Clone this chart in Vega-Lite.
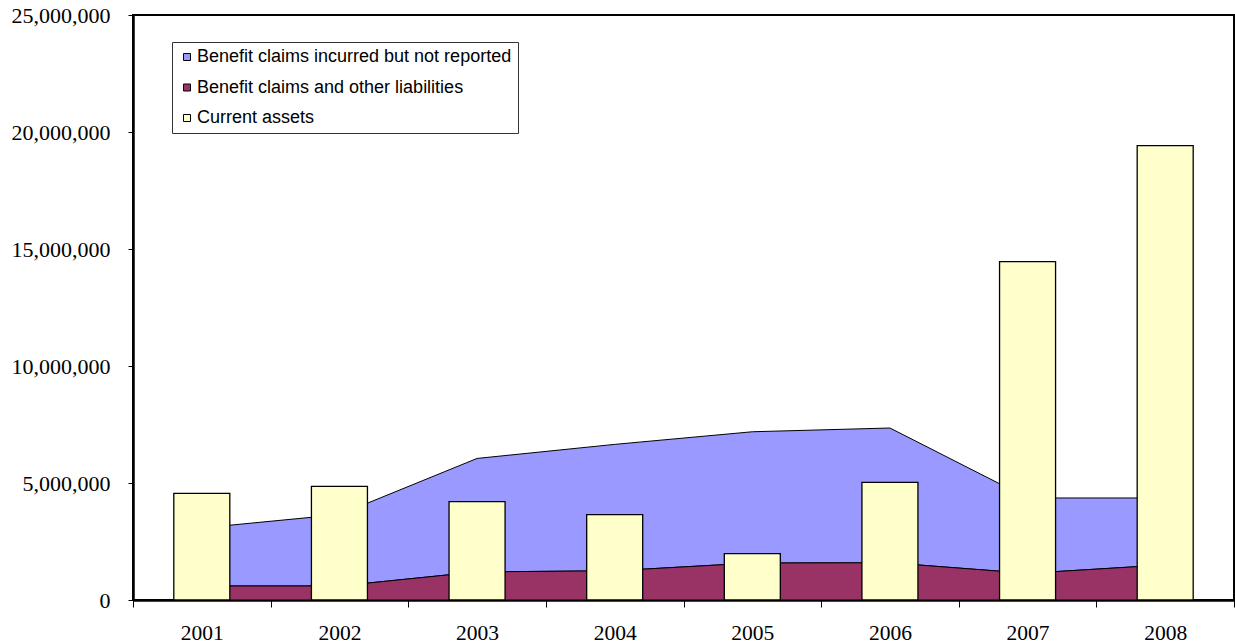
{
  "$schema": "https://vega.github.io/schema/vega-lite/v6.json",
  "width": 1101,
  "height": 585,
  "autosize": {"type": "none"},
  "padding": {"left": 133, "top": 15, "right": 1, "bottom": 44},
  "background": "white",
  "data": {
    "values": [
      {"year": "2001", "series": "Benefit claims incurred but not reported", "value": 2480000},
      {"year": "2002", "series": "Benefit claims incurred but not reported", "value": 3050000},
      {"year": "2003", "series": "Benefit claims incurred but not reported", "value": 4850000},
      {"year": "2004", "series": "Benefit claims incurred but not reported", "value": 5400000},
      {"year": "2005", "series": "Benefit claims incurred but not reported", "value": 5610000},
      {"year": "2006", "series": "Benefit claims incurred but not reported", "value": 5760000},
      {"year": "2007", "series": "Benefit claims incurred but not reported", "value": 3220000},
      {"year": "2008", "series": "Benefit claims incurred but not reported", "value": 2860000},
      {"year": "2001", "series": "Benefit claims and other liabilities", "value": 600000},
      {"year": "2002", "series": "Benefit claims and other liabilities", "value": 600000},
      {"year": "2003", "series": "Benefit claims and other liabilities", "value": 1200000},
      {"year": "2004", "series": "Benefit claims and other liabilities", "value": 1250000},
      {"year": "2005", "series": "Benefit claims and other liabilities", "value": 1580000},
      {"year": "2006", "series": "Benefit claims and other liabilities", "value": 1590000},
      {"year": "2007", "series": "Benefit claims and other liabilities", "value": 1140000},
      {"year": "2008", "series": "Benefit claims and other liabilities", "value": 1500000},
      {"year": "2001", "series": "Current assets", "value": 4560000},
      {"year": "2002", "series": "Current assets", "value": 4860000},
      {"year": "2003", "series": "Current assets", "value": 4200000},
      {"year": "2004", "series": "Current assets", "value": 3650000},
      {"year": "2005", "series": "Current assets", "value": 1980000},
      {"year": "2006", "series": "Current assets", "value": 5030000},
      {"year": "2007", "series": "Current assets", "value": 14460000},
      {"year": "2008", "series": "Current assets", "value": 19420000}
    ]
  },
  "encoding": {
    "x": {"field": "year", "type": "ordinal",
          "scale": {"type": "band", "paddingInner": 0, "paddingOuter": 0}},
    "y": {"field": "value", "type": "quantitative",
          "scale": {"domain": [0, 25000000], "nice": false},
          "axis": {"values": [0, 5000000, 10000000, 15000000, 20000000, 25000000], "format": ",d"}},
    "color": {"field": "series", "type": "nominal",
              "scale": {"domain": ["Benefit claims incurred but not reported", "Benefit claims and other liabilities", "Current assets"],
                        "range": ["#9999FF", "#993366", "#FFFFCC"]},
              "legend": {"orient": "none", "legendX": 39, "legendY": 27, "title": null}}
  },
  "layer": [
    {
      "transform": [{"filter": "datum.series != 'Current assets'"}],
      "mark": {"type": "area", "stroke": "black", "strokeWidth": 1, "opacity": 1},
      "encoding": {
        "x": {"field": "year", "type": "ordinal", "bandPosition": 0.5},
        "y": {"field": "value", "type": "quantitative", "stack": "zero"},
        "order": {"field": "series", "sort": "ascending"}
      }
    },
    {
      "transform": [{"filter": "datum.series == 'Current assets'"}],
      "mark": {"type": "bar", "width": {"band": 0.407}, "stroke": "black", "strokeWidth": 1.3}
    }
  ],
  "config": {
    "view": {"stroke": "black", "strokeWidth": 2},
    "axisY": {"domainColor": "black", "domainWidth": 2.5, "tickColor": "black", "tickSize": 5, "tickWidth": 1,
              "labelFont": "Liberation Serif", "labelFontSize": 22, "labelColor": "black", "labelPadding": 18,
              "grid": false, "title": null},
    "axisX": {"domainColor": "black", "domainWidth": 2.5, "tickColor": "black", "tickSize": 7, "tickWidth": 1,
              "labelFont": "Liberation Serif", "labelFontSize": 21.5, "labelColor": "black", "labelPadding": 15,
              "labelAngle": 0, "tickBand": "extent", "grid": false, "title": null},
    "legend": {"labelFont": "Liberation Sans", "labelFontSize": 18, "labelColor": "black", "labelLimit": 0,
               "symbolType": "square", "symbolSize": 49, "symbolStrokeColor": "black", "symbolStrokeWidth": 1,
               "symbolOpacity": 1, "rowPadding": 12.5, "padding": 6, "strokeColor": "#333333", "fillColor": "white",
               "labelOffset": 1}
  }
}
